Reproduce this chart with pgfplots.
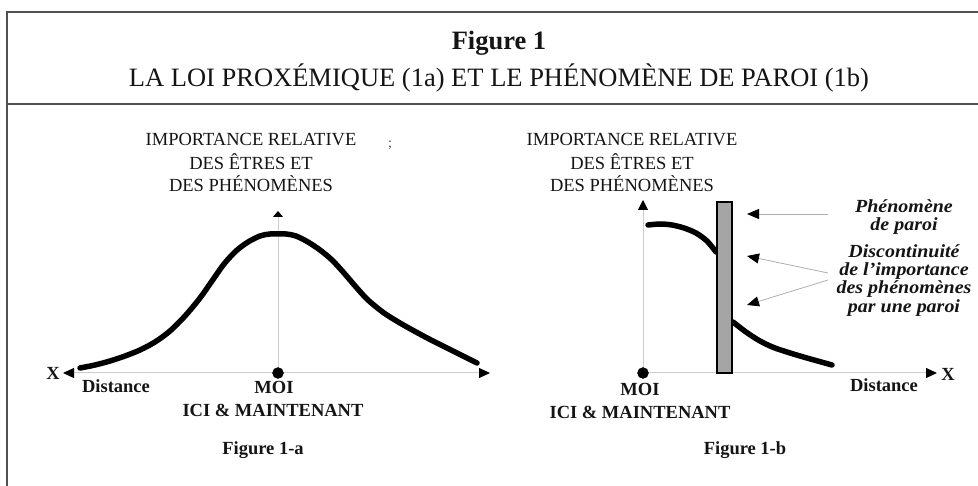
\documentclass[border=0pt]{standalone}
\usepackage{fontspec}
\setmainfont{Liberation Serif}
\usepackage{pgfplots}
\pgfplotsset{compat=1.18}
\usetikzlibrary{arrows.meta}
\definecolor{axgray}{RGB}{205,205,205}
\definecolor{argray}{RGB}{175,175,175}
\definecolor{framegray}{RGB}{80,80,80}
\definecolor{wallgray}{RGB}{165,165,165}
\definecolor{ink}{RGB}{20,20,20}
\newcommand{\lab}{\fontsize{18.5}{22}\selectfont}
\newcommand{\tit}{\fontsize{26.5}{30}\selectfont}
\newcommand{\itl}{\fontsize{18.5}{18.4}\selectfont\bfseries\itshape}
\begin{document}
\begin{tikzpicture}
\begin{axis}[
  at={(0,0)}, anchor=south west,
  width=978pt, height=486pt, scale only axis,
  xmin=0, xmax=978, ymin=0, ymax=486, y dir=reverse,
  hide axis, clip=false,
]
% frame
\addplot[framegray, line width=2pt] coordinates {(7,486) (7,12) (978,12)};
\addplot[framegray, line width=2pt] coordinates {(7,104) (978,104)};
% titles
\node[font=\tit\bfseries, text=ink, anchor=base] at (axis cs:499,50) {Figure 1};
\node[font=\tit, text=ink, anchor=base] at (axis cs:499,87) {LA LOI PROXÉMIQUE (1a) ET LE PHÉNOMÈNE DE PAROI (1b)};

% ---------- Figure 1-a ----------
\addplot[axgray, line width=1pt, {Triangle[length=11pt,width=10pt,black]}-{Triangle[length=11pt,width=10pt,black]}] coordinates {(63,373) (490,373)};
\addplot[axgray, line width=1pt, -{Triangle[length=6pt,width=10pt,black]}] coordinates {(278,373) (278,211)};
\addplot[black, line width=5.5pt, line cap=round, line join=round, smooth] coordinates {
(80,368) (95,365) (110,361) (125,356) (140,350) (155,342) (170,331) (185,316) (200,298) (212,281) (224,264) (236,251) (248,242) (260,236) (270,234) (286,234) (296,236) (308,242) (320,250) (332,260) (344,273) (356,287) (368,300) (384,313) (400,323) (416,332) (433,341) (455,352) (477,363)};
\addplot[only marks, mark=*, mark size=5.5pt, black, mark options={fill=black}] coordinates {(278,373)};
\node[font=\lab, text=ink, anchor=base] at (axis cs:251,146) {IMPORTANCE RELATIVE};
\node[font=\lab, text=ink, anchor=base] at (axis cs:251,170) {DES ÊTRES ET};
\node[font=\lab, text=ink, anchor=base] at (axis cs:251,192) {DES PHÉNOMÈNES};
\node[font=\fontsize{14}{14}\selectfont, text=darkgray, anchor=base] at (axis cs:390,148) {;};
\node[font=\lab\bfseries, text=ink, anchor=base] at (axis cs:53,380) {X};
\node[font=\lab\bfseries, text=ink, anchor=base] at (axis cs:116,393) {Distance};
\node[font=\lab\bfseries, text=ink, anchor=base] at (axis cs:274,394) {MOI};
\node[font=\lab\bfseries, text=ink, anchor=base] at (axis cs:273,417) {ICI \& MAINTENANT};
\node[font=\lab\bfseries, text=ink, anchor=base] at (axis cs:263,454) {Figure 1-a};

% ---------- Figure 1-b ----------
\addplot[axgray, line width=1pt, -{Triangle[length=11pt,width=10pt,black]}] coordinates {(643,373) (937,373)};
\addplot[axgray, line width=1pt, -{Triangle[length=10pt,width=10pt,black]}] coordinates {(643,373) (643,200)};
\addplot[black, line width=5.5pt, line cap=round, line join=round, smooth] coordinates {
(648,225) (660,224) (672,225) (684,228) (696,233) (707,241) (716,252)};
\addplot[black, line width=5.5pt, line cap=round, line join=round, smooth] coordinates {
(733,322) (746,332) (760,341) (775,348) (800,356) (832,365)};
\addplot[fill=wallgray, draw=black, line width=1.2pt] coordinates {(717,202) (732,202) (732,373) (717,373)} -- cycle;
\addplot[only marks, mark=*, mark size=5.5pt, black, mark options={fill=black}] coordinates {(643,373)};
\addplot[argray, line width=0.8pt, -{Triangle[length=12pt,width=10pt,black]}] coordinates {(828,214) (747,214)};
\addplot[argray, line width=0.8pt, -{Triangle[length=12pt,width=10pt,black]}] coordinates {(828,273) (747,256)};
\addplot[argray, line width=0.8pt, -{Triangle[length=12pt,width=10pt,black]}] coordinates {(828,280) (747,305)};
\node[font=\lab, text=ink, anchor=base] at (axis cs:632,146) {IMPORTANCE RELATIVE};
\node[font=\lab, text=ink, anchor=base] at (axis cs:632,170) {DES ÊTRES ET};
\node[font=\lab, text=ink, anchor=base] at (axis cs:632,192) {DES PHÉNOMÈNES};
\node[font=\itl, text=ink, align=center, anchor=north, inner sep=0pt, xscale=1.08] at (axis cs:904,199) {Phénomène\\de paroi};
\node[font=\itl, text=ink, align=center, anchor=north, inner sep=0pt, xscale=1.08] at (axis cs:904,244) {Discontinuité\\de l’importance\\des phénomènes\\par une paroi};
\node[font=\lab\bfseries, text=ink, anchor=base] at (axis cs:948,381) {X};
\node[font=\lab\bfseries, text=ink, anchor=base] at (axis cs:884,392) {Distance};
\node[font=\lab\bfseries, text=ink, anchor=base] at (axis cs:640,396) {MOI};
\node[font=\lab\bfseries, text=ink, anchor=base] at (axis cs:640,419) {ICI \& MAINTENANT};
\node[font=\lab\bfseries, text=ink, anchor=base] at (axis cs:745,454) {Figure 1-b};
\end{axis}
\pgfresetboundingbox
\useasboundingbox (0,0) rectangle (978pt,486pt);
\end{tikzpicture}
\end{document}
